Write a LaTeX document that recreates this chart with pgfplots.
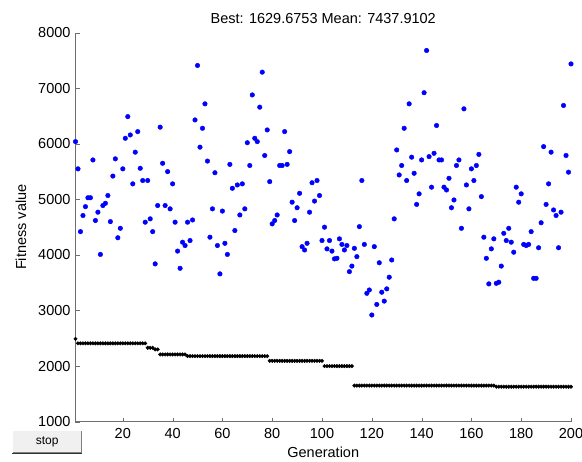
\documentclass[border=0pt]{standalone}
\usepackage{fontspec}
\setmainfont{Liberation Sans}
\usepackage{pgfplots}
\usepackage{pgfplotstable}
\pgfplotsset{compat=1.18}

\definecolor{axgray}{RGB}{110,110,110}
\definecolor{btnface}{RGB}{240,240,240}

% gen, best fitness, mean fitness
\pgfplotstableread{
g b m
1 2490 6040
2 2410 5550
3 2410 4420
4 2410 4710
5 2410 4870
6 2410 5030
7 2410 5030
8 2410 5710
9 2410 4620
10 2410 4770
11 2410 4010
12 2410 4890
13 2410 4930
14 2410 5070
15 2410 4600
16 2410 5420
17 2410 5730
18 2410 4310
19 2410 4480
20 2410 5550
21 2410 6100
22 2410 6490
23 2410 6160
24 2410 5280
25 2410 5850
26 2410 6220
27 2410 5560
28 2410 5340
29 2410 4590
30 2330 5340
31 2330 4650
32 2330 4420
33 2300 3840
34 2300 4890
35 2210 6300
36 2210 5650
37 2210 4890
38 2210 5500
39 2210 4830
40 2210 5280
41 2210 4590
42 2210 4070
43 2210 3760
44 2210 4230
45 2210 4170
46 2180 4590
47 2180 4260
48 2180 4630
49 2180 6430
50 2180 7410
51 2180 5940
52 2180 6280
53 2180 6720
54 2180 5690
55 2180 4320
56 2180 4830
57 2180 5480
58 2180 4170
59 2180 3660
60 2180 4790
61 2180 4210
62 2180 4010
63 2180 5630
64 2180 5200
65 2180 4440
66 2180 5260
67 2180 4720
68 2180 5280
69 2180 4830
70 2180 6020
71 2180 5610
72 2180 6880
73 2180 6100
74 2180 6040
75 2180 6660
76 2180 7290
77 2180 5790
78 2180 6250
79 2095 5320
80 2095 4560
81 2095 4620
82 2095 4720
83 2095 5610
84 2095 5610
85 2095 6220
86 2095 5630
87 2095 5860
88 2095 4950
89 2095 4620
90 2095 4850
91 2095 5110
92 2095 4150
93 2095 4090
94 2095 4210
95 2095 4770
96 2095 5300
97 2095 4970
98 2095 5340
99 2095 5070
100 2095 4260
101 2000 4500
102 2000 4110
103 2000 4260
104 2000 4070
105 2000 3930
106 2000 3940
107 2000 4290
108 2000 4190
109 2000 4090
110 2000 4170
111 2000 3700
112 2000 3800
113 1650 4120
114 1650 3970
115 1650 4510
116 1650 5340
117 1650 4190
118 1650 3310
119 1650 3370
120 1650 2920
121 1650 4150
122 1650 3110
123 1650 3860
124 1650 3330
125 1650 3170
126 1650 3390
127 1650 3600
128 1650 3910
129 1650 4650
130 1650 5890
131 1650 5440
132 1650 5610
133 1650 6280
134 1650 5340
135 1650 6720
136 1650 5760
137 1650 5470
138 1650 4910
139 1650 5100
140 1650 5710
141 1650 6920
142 1650 7680
143 1650 5770
144 1650 5220
145 1650 5830
146 1650 6330
147 1650 5710
148 1650 5710
149 1650 5220
150 1650 5170
151 1650 5380
152 1650 4850
153 1650 4990
154 1650 5610
155 1650 5710
156 1650 4480
157 1650 6630
158 1650 5260
159 1650 4830
160 1650 5550
161 1650 5340
162 1650 5610
163 1650 5810
164 1650 5050
165 1650 4320
166 1650 3940
167 1650 3480
168 1650 4110
169 1650 4290
170 1630 3490
171 1630 3510
172 1630 3800
173 1630 4390
174 1630 4260
175 1630 4480
176 1630 4230
177 1630 4050
178 1630 5220
179 1630 4950
180 1630 5100
181 1630 4190
182 1630 4170
183 1630 4190
184 1630 4420
185 1630 3580
186 1630 3580
187 1630 4130
188 1630 4580
189 1630 5950
190 1630 4910
191 1630 5280
192 1630 5850
193 1630 4810
194 1630 4710
195 1630 4130
196 1630 4770
197 1630 6690
198 1630 5790
199 1630 5490
200 1630 7438
}\gadata

\begin{document}
\fontsize{14.5}{17}\selectfont
\begin{tikzpicture}
\useasboundingbox (0pt,0pt) rectangle (582pt,462pt);
\begin{axis}[
    at={(75.5pt,40.3pt)}, anchor=south west,
    scale only axis,
    width=495.5pt, height=389pt,
    xmin=1, xmax=200,
    ymin=1000, ymax=8000,
    axis lines=left,
    axis line style={-, axgray},
    tick align=inside,
    major tick length=4pt,
    tick style={axgray},
    xtick={20,40,...,200},
    ytick={1000,2000,...,8000},
    /pgf/number format/1000 sep={},
    /pgf/number format/assume math mode=true,
    xticklabel style={yshift=-2pt},
    title={Best: 1629.6753 Mean: 7437.9102},
    title style={yshift=-2pt},
    xlabel={Generation},
    ylabel={Fitness value},
    xlabel style={yshift=2pt},
    ylabel style={yshift=2pt},
    clip=false,
]
\addplot[only marks, mark=*, mark size=1.8pt, black] table[x=g, y=b] {\gadata};
\addplot[only marks, mark=*, mark size=2.3pt, blue, mark options={draw=blue, fill=blue}] table[x=g, y=m] {\gadata};
\end{axis}
% stop button of the GA window
\fill[btnface] (12.7pt,9.7pt) rectangle (81.7pt,31.3pt);
\draw[white, line width=1pt] (12.7pt,9.7pt) -- (12.7pt,31.3pt) -- (81.7pt,31.3pt);
\draw[gray, line width=1pt] (12.7pt,9.7pt) -- (81.7pt,9.7pt) -- (81.7pt,31.3pt);
\draw[black!80, line width=0.6pt] (12pt,9pt) -- (82.4pt,9pt);
\node[font=\fontsize{12}{14}\selectfont] at (47.2pt,20.5pt) {stop};
\end{tikzpicture}
\end{document}
